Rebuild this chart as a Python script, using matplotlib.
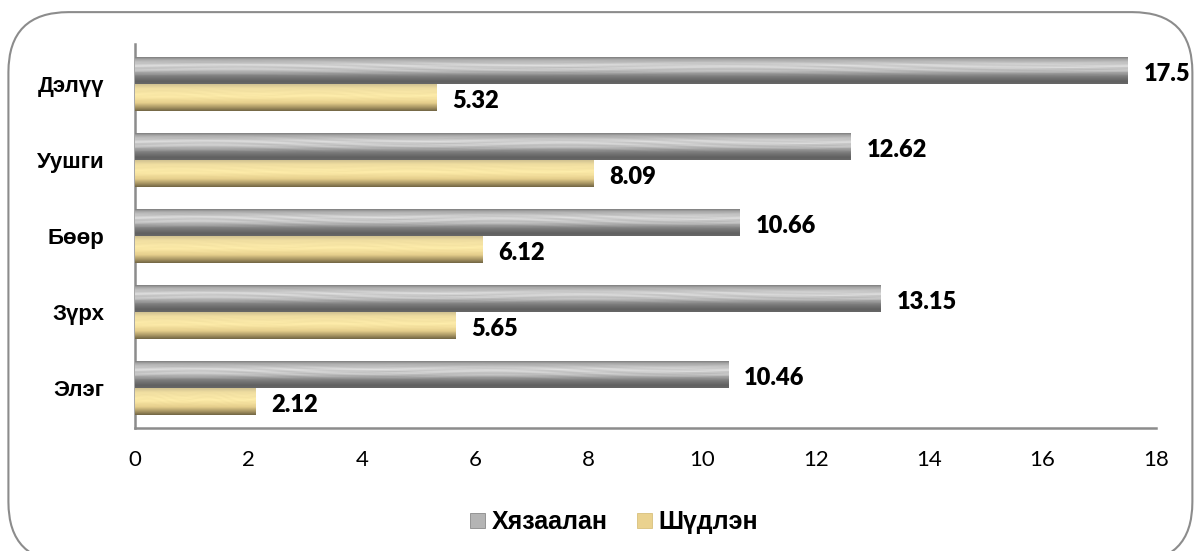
import matplotlib.pyplot as plt
import numpy as np
from matplotlib.patches import FancyBboxPatch, Patch
from matplotlib.font_manager import FontProperties

categories = ['Элэг', 'Зүрх', 'Бөөр', 'Уушги', 'Дэлүү']
khyazaalan = [10.46, 13.15, 10.66, 12.62, 17.5]
shudlen = [2.12, 5.65, 6.12, 8.09, 5.32]
series_names = ['Хязаалан', 'Шүдлэн']
xticks = [0, 2, 4, 6, 8, 10, 12, 14, 16, 18]


def metal_texture(stops, n_rows=60, n_cols=500, streak=0.0, seed_phase=0.0):
    # vertical colour profile with faint horizontal streaks
    pos = [s[0] for s in stops]
    cols = np.array([s[1] for s in stops], dtype=float)
    t = np.linspace(0, 1, n_rows)
    prof = np.stack([np.interp(t, pos, cols[:, k]) for k in range(3)], axis=1)
    img = np.repeat(prof[:, None, :], n_cols, axis=1)
    if streak:
        xx = np.linspace(0, 1, n_cols)[None, :]
        yy = t[:, None]
        wave = (np.sin(2 * np.pi * (3 * xx + 5 * yy + seed_phase))
                * np.sin(2 * np.pi * (11 * yy + 0.7 * np.sin(2 * np.pi * 2 * xx)))
                + 0.5 * np.sin(2 * np.pi * (7 * xx + 17 * yy + seed_phase)))
        mask = np.clip(1 - np.abs(yy - 0.4) / 0.35, 0, 1)
        img = img + streak * wave[:, :, None] * mask[:, :, None]
    return np.clip(img, 0, 1)


gray_tex = metal_texture([(0.0, (0.50, 0.50, 0.50)), (0.08, (0.66, 0.66, 0.66)),
                          (0.3, (0.84, 0.84, 0.84)), (0.5, (0.76, 0.76, 0.76)),
                          (0.7, (0.50, 0.50, 0.50)), (0.9, (0.38, 0.38, 0.38)),
                          (1.0, (0.40, 0.40, 0.40))], streak=0.09)
gold_tex = metal_texture([(0.0, (0.82, 0.76, 0.57)), (0.15, (0.94, 0.87, 0.63)),
                          (0.45, (0.99, 0.92, 0.66)), (0.7, (0.90, 0.81, 0.55)),
                          (0.88, (0.64, 0.57, 0.38)), (1.0, (0.45, 0.40, 0.27))],
                         streak=0.025, seed_phase=0.3)

fig = plt.figure(figsize=(12.02, 5.51), dpi=100)
ax = fig.add_axes([0.1123, 0.2232, 0.8494, 0.6968])

# rounded chart frame, bottom edge runs off the canvas
frame = FancyBboxPatch((0.007, -0.02), 0.985, 0.998,
                       boxstyle='round,pad=0,rounding_size=0.05',
                       transform=fig.transFigure, facecolor='none',
                       edgecolor='#8c8c8c', linewidth=1.5, mutation_aspect=2.18)
fig.patches.append(frame)

y = np.arange(len(categories))
h = 0.355
bars_k = ax.barh(y + h / 2, khyazaalan, height=h, color='#a6a6a6')
bars_s = ax.barh(y - h / 2, shudlen, height=h, color='#ecd693')

for bars, tex in ((bars_k, gray_tex), (bars_s, gold_tex)):
    for b in bars:
        x0, y0, w, hh = b.get_x(), b.get_y(), b.get_width(), b.get_height()
        im = ax.imshow(tex, extent=[x0, x0 + w, y0, y0 + hh], aspect='auto',
                       origin='upper', interpolation='bilinear', zorder=3)
        im.set_clip_path(b)

for bars, vals in ((bars_k, khyazaalan), (bars_s, shudlen)):
    for b, v in zip(bars, vals):
        ax.text(b.get_width() + 0.28, b.get_y() + b.get_height() / 2 - 0.04,
                f'{v:g}', va='center', ha='left', fontsize=17,
                fontweight='heavy', family='Lato', color='black', zorder=4)

cat_font = FontProperties(family='Liberation Sans', weight='bold', size=16)
tick_font = FontProperties(family='Lato', size=16)

ax.set_xlim(0, 18)
ax.set_ylim(-0.526, 4.526)
ax.set_xticks(xticks)
ax.set_xticklabels([str(t) for t in xticks], fontproperties=tick_font)
ax.set_yticks(y)
ax.set_yticklabels(categories, fontproperties=cat_font)
ax.tick_params(axis='x', length=0, pad=16)
ax.tick_params(axis='y', length=0, pad=22)
for s in ('top', 'right'):
    ax.spines[s].set_visible(False)
for s in ('left', 'bottom'):
    ax.spines[s].set_color('#8c8c8c')
    ax.spines[s].set_linewidth(1.8)

handles = [Patch(facecolor='#b4b4b4', edgecolor='#8a8a8a', linewidth=0.6),
           Patch(facecolor='#ead28f', edgecolor='#d8c07c', linewidth=0.6)]
fig.legend(handles, series_names, loc='center', bbox_to_anchor=(0.511, 0.052),
           ncol=2, frameon=False, handlelength=0.6, handleheight=0.6,
           handletextpad=0.25, columnspacing=1.2,
           prop={'family': 'Liberation Sans', 'weight': 'bold', 'size': 18})

fig.savefig('out.png', dpi=100)
